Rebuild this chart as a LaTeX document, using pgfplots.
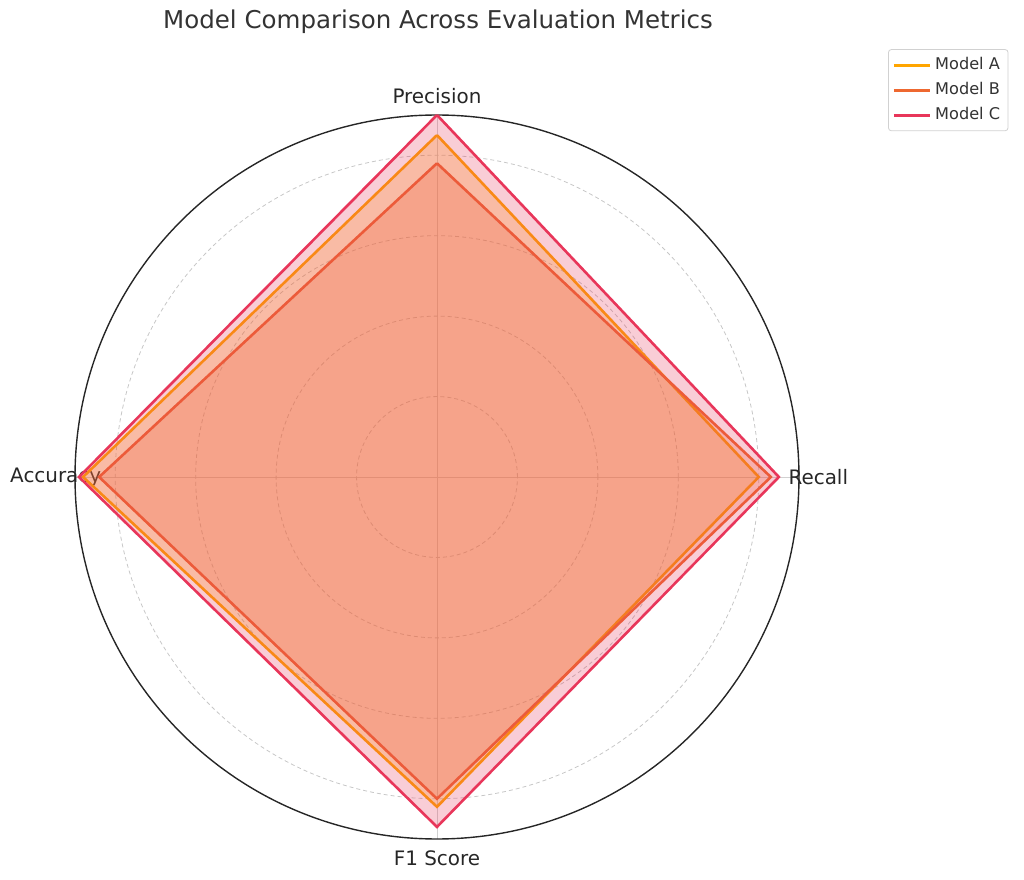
\documentclass[border=0pt]{standalone}
\usepackage{fontspec}
\setmainfont{DejaVu Sans}
\usepackage{pgfplots}
\usepgfplotslibrary{polar}
\pgfplotsset{compat=1.18}

\definecolor{colA}{RGB}{255,165,0}
\definecolor{colB}{RGB}{238,104,48}
\definecolor{colC}{RGB}{232,54,90}
\definecolor{txt}{RGB}{51,51,51}

\begin{document}
\begin{tikzpicture}
\useasboundingbox (0,0) rectangle (512bp,440bp);
\node[font=\fontsize{12.3}{14}\selectfont, text=txt] at (219bp,429bp) {Model Comparison Across Evaluation Metrics};

\begin{polaraxis}[
    at={(218.5bp,201.5bp)}, anchor=center,
    scale only axis, width=362bp, height=362bp,
    ymin=0, ymax=0.9,
    xtick={0,90,180,270}, xticklabels={},
    ytick={0.2,0.4,0.6,0.8}, yticklabels={},
    major tick length=0,
    grid=major,
    x grid style={black!18, line width=0.4bp},
    y grid style={black!22, dash pattern=on 2bp off 1.5bp, line width=0.4bp},
    x axis line style={black!85, line width=0.7bp},
    y axis line style={draw=none},
    clip=false,
    legend style={at={(1.123,1.091)}, anchor=north west,
        draw=black!18, rounded corners=1.5bp,
        font=\fontsize{8.1}{9.5}\selectfont, text=txt,
        row sep=0.9bp, inner sep=2bp},
    legend image code/.code={
        \draw[line width=1.4bp, fill=none] (0bp,0bp) -- (18bp,0bp);},
    legend cell align=left,
]
% axis labels first, so the polygons are drawn over them
\node[font=\fontsize{10}{12}\selectfont, text=black!85] at (axis cs:90,0.948) {Precision};
\node[font=\fontsize{10}{12}\selectfont, text=black!85] at (axis cs:0,0.948) {Recall};
\node[font=\fontsize{10}{12}\selectfont, text=black!85] at (axis cs:270,0.948) {F1 Score};
\node[font=\fontsize{10}{12}\selectfont, text=black!85] at (axis cs:180,0.948) {Accuracy};

% Precision, Recall, F1 Score, Accuracy
\addplot[draw=colA, line width=1.3bp, fill=colA, fill opacity=0.25]
    coordinates {(90,0.85)(0,0.80)(270,0.82)(180,0.88)(90,0.85)};
\addplot[draw=colB, line width=1.3bp, fill=colB, fill opacity=0.25]
    coordinates {(90,0.78)(0,0.83)(270,0.80)(180,0.84)(90,0.78)};
\addplot[draw=colC, line width=1.3bp, fill=colC, fill opacity=0.25]
    coordinates {(90,0.90)(0,0.85)(270,0.87)(180,0.89)(90,0.90)};
\legend{Model A, Model B, Model C}
\end{polaraxis}
\end{tikzpicture}
\end{document}
